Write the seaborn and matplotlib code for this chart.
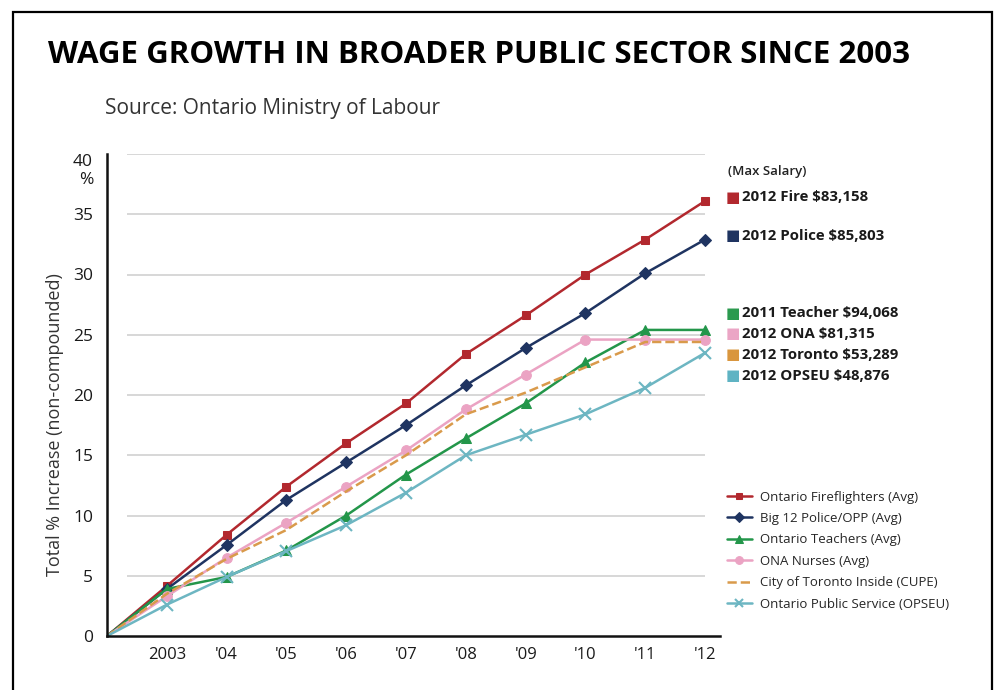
# Wage growth in broader public sector since 2003
# Total % increase (non-compounded), Ontario Ministry of Labour

import numpy as np
import pandas as pd
import matplotlib
matplotlib.use('Agg')
import matplotlib.pyplot as plt
from matplotlib.patches import Rectangle
import seaborn as sns

# Data (2002 = starting point, 0 %)
years = [2002, 2003, 2004, 2005, 2006, 2007, 2008, 2009, 2010, 2011, 2012]
year_labels = ['2003', "'04", "'05", "'06", "'07", "'08", "'09", "'10", "'11", "'12"]

fire = [0, 4.15, 8.4, 12.4, 16.0, 19.3, 23.4, 26.6, 30.0, 32.9, 36.1]
police = [0, 3.9, 7.55, 11.3, 14.4, 17.5, 20.8, 23.9, 26.8, 30.1, 32.9]
teachers = [0, 3.9, 4.9, 7.1, 10.0, 13.4, 16.4, 19.3, 22.7, 25.4, 25.4]
nurses = [0, 3.3, 6.5, 9.4, 12.4, 15.4, 18.8, 21.7, 24.6, 24.6, 24.6]
toronto = [0, 3.5, 6.4, 8.8, 12.0, 15.0, 18.4, 20.2, 22.3, 24.4, 24.4]
opseu = [0, 2.6, 4.9, 7.05, 9.2, 11.9, 15.0, 16.7, 18.4, 20.6, 23.5]

series_names = ['Ontario Fireflighters (Avg)', 'Big 12 Police/OPP (Avg)',
                'Ontario Teachers (Avg)', 'ONA Nurses (Avg)',
                'City of Toronto Inside (CUPE)', 'Ontario Public Service (OPSEU)']
series_values = [fire, police, teachers, nurses, toronto, opseu]
colors = ['#B2282E', '#1F3461', '#23964A', '#EBA3C3', '#D99A4B', '#6DB6C2']
markers = ['s', 'D', '^', 'o', None, 'x']
msizes = [6, 6, 7, 7, 0, 8]
styles = ['-', '-', '-', '-', '--', '-']

salary_labels = ['2012 Fire $83,158', '2012 Police $85,803', '2011 Teacher $94,068',
                 '2012 ONA $81,315', '2012 Toronto $53,289', '2012 OPSEU $48,876']
salary_colors = ['#B2282E', '#1F3461', '#2B9A4F', '#EBA5C5', '#D9963E', '#5FB3C3']

sns.set_style('white')
plt.rcParams['font.family'] = ['Open Sans', 'DejaVu Sans']

fig = plt.figure(figsize=(9.95, 6.9), dpi=100)
ax = fig.add_axes([107 / 995, 1 - 636 / 690, (720 - 107) / 995, (636 - 154) / 690])

# light horizontal grid, starting after the inward ticks
yticks = [5, 10, 15, 20, 25, 30, 35, 40]
ax.hlines(yticks, 2002.33, 2012, color='#d4d4d4', lw=1.3, zorder=0)

for name, vals, c, m, ms, ls in zip(series_names, series_values, colors, markers, msizes, styles):
    df = pd.DataFrame({'year': years, 'pct': vals})
    kw = dict(marker=m, markersize=ms, markevery=list(range(1, len(years))),
              markeredgecolor=c, markerfacecolor=c) if m else {}
    if m == 'x':
        kw['markeredgewidth'] = 1.5
    sns.lineplot(data=df, x='year', y='pct', ax=ax, color=c, linestyle=ls,
                 lw=1.8, label=name, **kw)

ax.set_xlim(2002, 2012.25)
ax.set_ylim(0, 40)
ax.set_xticks(years[1:])
ax.set_xticklabels(year_labels, fontsize=12, color='#1a1a1a')
ax.set_yticks([0] + yticks)
ax.set_yticklabels(['0', '5', '10', '15', '20', '25', '30', '35', '40\n%'],
                   fontsize=12.5, color='#1a1a1a')
ax.get_yticklabels()[-1].set_verticalalignment('top')
ax.tick_params(axis='y', direction='in', length=14, width=1.8, pad=10)
ax.tick_params(axis='x', direction='in', length=10, width=1.8, pad=8)
ax.set_xlabel('')
ax.set_ylabel('')
for s in ['top', 'right']:
    ax.spines[s].set_visible(False)
for s in ['left', 'bottom']:
    ax.spines[s].set_linewidth(1.8)
    ax.spines[s].set_color('#111111')

ax.legend(loc='upper left', bbox_to_anchor=(720 / 995, 1 - 484 / 690),
          bbox_transform=fig.transFigure, frameon=False, fontsize=9.5,
          handlelength=1.9, handletextpad=0.6, labelspacing=0.64, borderpad=0,
          markerscale=0.8)

# titles
fig.text(48 / 995, 1 - 63 / 690, 'WAGE GROWTH IN BROADER PUBLIC SECTOR SINCE 2003',
         fontsize=22.5, fontweight='bold', va='baseline', ha='left', color='black')
fig.text(105 / 995, 1 - 114 / 690, 'Source: Ontario Ministry of Labour',
         fontsize=15, color='#333333', va='baseline', ha='left')
fig.text(55 / 995, 1 - 425 / 690, 'Total % Increase (non-compounded)', rotation=90,
         fontsize=13, color='#333333', va='center', ha='center')

# max salary annotations
fig.text(728 / 995, 1 - 171 / 690, '(Max Salary)', fontsize=9.5, fontweight='semibold',
         va='center', ha='left', color='#222222')
label_y = [197, 236, 313, 334, 355, 376]
for lab, c, y in zip(salary_labels, salary_colors, label_y):
    fig.text(726 / 995, 1 - y / 690, '■', fontsize=11, color=c, va='center', ha='left',
             family='DejaVu Sans')
    fig.text(742 / 995, 1 - y / 690, lab, fontsize=10.8, fontweight='bold',
             va='center', ha='left', color='#1a1a1a')

# frame around the whole graphic
fig.patches.append(Rectangle((13 / 995, -0.05), (992 - 13) / 995, 1.05 - 12 / 690,
                             transform=fig.transFigure, fill=False, lw=1.6,
                             edgecolor='black'))

fig.savefig('out.png', dpi=100)
